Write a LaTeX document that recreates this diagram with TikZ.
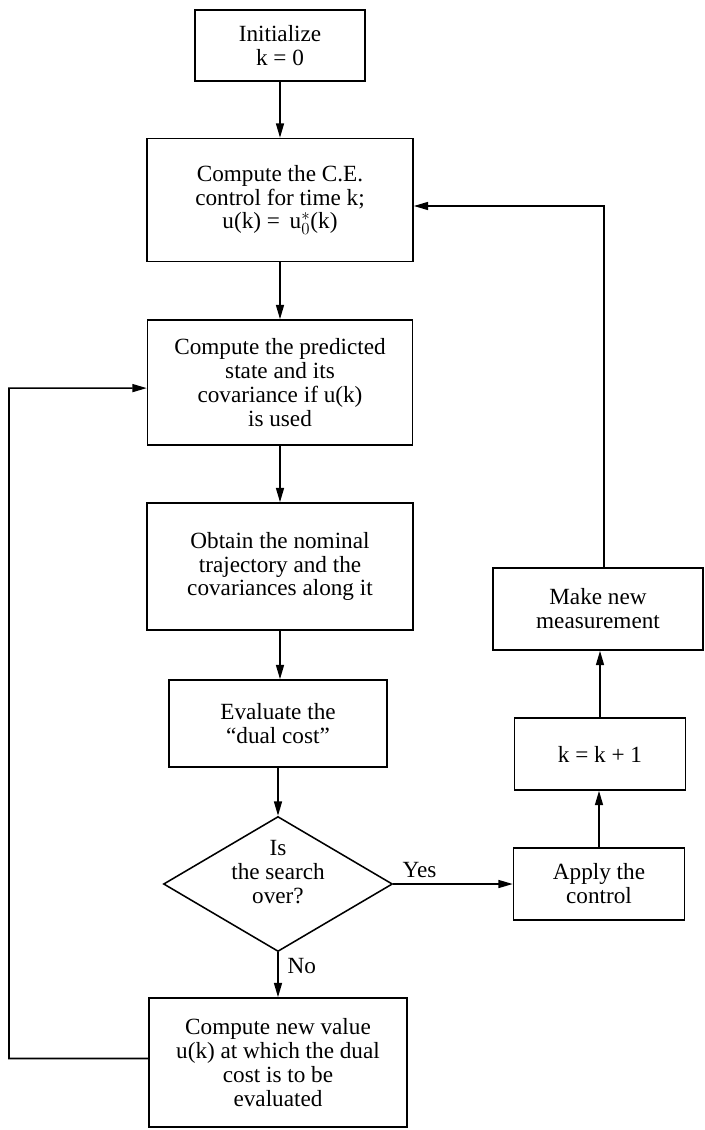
\documentclass[tikz,border=0pt]{standalone}
\usepackage{fontspec}
\setmainfont{Liberation Serif}
\usetikzlibrary{arrows.meta,shapes.geometric}
\begin{document}
\begin{tikzpicture}[x=0.025cm,y=-0.025cm,
  txt/.style={font=\fontsize{16.5}{17}\selectfont},
  box/.style={draw, line width=1.1pt, rectangle, align=center, inner sep=0pt, txt},
  arr/.style={line width=1.1pt, -{Triangle[length=0.36cm,width=0.2cm]}},
  lab/.style={txt, inner sep=0pt}]
\useasboundingbox (0,0) rectangle (704,1130);
% main column
\node[box, minimum width=170*0.025cm, minimum height=71*0.025cm] (init) at (280,45.5) {Initialize\\k = 0};
\node[box, minimum width=266*0.025cm, minimum height=123*0.025cm] (ce) at (280,200) {Compute the C.E.\\control for time k;\\u(k) = \,u$^{\ast}_{0}$(k)};
\node[box, minimum width=265*0.025cm, minimum height=125*0.025cm] (pred) at (280,382.5) {Compute the predicted\\state and its\\covariance if u(k)\\is used};
\node[box, minimum width=266*0.025cm, minimum height=127*0.025cm] (nom) at (280,566.5) {Obtain the nominal\\trajectory and the\\covariances along it};
\node[box, minimum width=218*0.025cm, minimum height=87*0.025cm] (eval) at (278,723.5) {Evaluate the\\``dual cost''};
\node[diamond, draw, line width=1.1pt, inner sep=0pt, aspect=1.7, minimum width=229*0.025cm, minimum height=135*0.025cm] (dec) at (278,884) {};
\node[lab, align=center] (dectext) at (278,872) {Is\\the search\\over?};
\node[box, minimum width=258*0.025cm, minimum height=129*0.025cm] (newval) at (278,1062.5) {Compute new value\\u(k) at which the dual\\cost is to be\\evaluated};
% right column
\node[box, minimum width=171*0.025cm, minimum height=72*0.025cm] (apply) at (599,884) {Apply the\\control};
\node[box, minimum width=171*0.025cm, minimum height=72*0.025cm] (kbox) at (600,754) {k = k + 1};
\node[box, minimum width=210*0.025cm, minimum height=82*0.025cm] (meas) at (598,609) {Make new\\measurement};
\coordinate (lx) at (9,1058.5);
% connectors
\draw[arr] (init) -- (init |- ce.north);
\draw[arr] (ce) -- (ce |- pred.north);
\draw[arr] (pred) -- (pred |- nom.north);
\draw[arr] (nom) -- (nom |- eval.north);
\draw[arr] (eval) -- (eval |- dec.north);
\draw[arr] (dec.south) -- node[lab, anchor=west, xshift=0.22cm, pos=0.3] {No} (dec.south |- newval.north);
\draw[arr] (dec.east) -- node[lab, above=0.15cm, pos=0.22] {Yes} (dec.east -| apply.west);
\draw[arr] (apply) -- (apply |- kbox.south);
\draw[arr] (kbox) -- (kbox |- meas.south);
\draw[arr] ([xshift=0.15cm]meas.north) |- ([yshift=-0.15cm]ce.east);
\draw[arr] ([yshift=0.1cm]newval.west) -- (lx) |- ([yshift=-0.14cm]pred.west);
\end{tikzpicture}
\end{document}
